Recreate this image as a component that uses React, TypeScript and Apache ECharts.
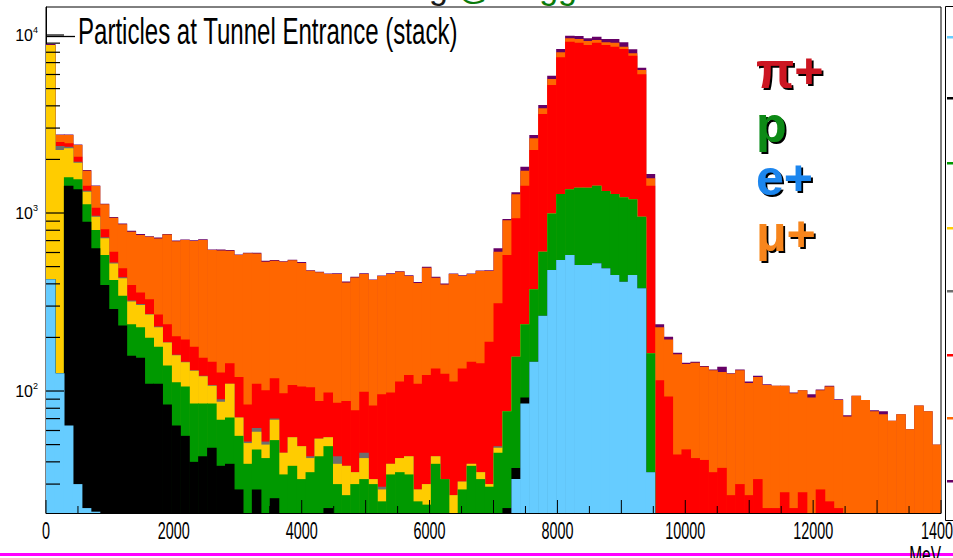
import React, { useEffect, useRef } from "react";
import * as echarts from "echarts";

// ---------------- data ----------------
const BIN_WIDTH_MEV = 140; // 100 bins from 0 to 14000 MeV
const X_MIN = 0;
const X_MAX = 14000;
const X_LABEL_STEP = 2000;
const X_TICK_STEP = 500;
const Y_MIN = 20.64;
const Y_MAX = 14365;

const layerNames = ["light blue", "black", "green", "yellow", "gray", "red", "orange", "purple"];
const layerColors = ["#66ccff", "#000000", "#009900", "#ffcc00", "#6e6e6e", "#ff0000", "#ff6600", "#660066"];

// counts per bin, stack order bottom -> top
const lightBlueCounts = [
  424, 126, 64, 30, 22, 21, 12, 10, 8, 6, 5, 4, 3, 3, 2, 2, 2, 1, 1, 1,
  1, 1, 1, 1, 1, 1, 1, 1, 1, 1, 1, 1, 1, 1, 1, 1, 1, 1, 1, 1,
  1, 1, 1, 1, 1, 1, 1, 1, 1, 1, 1, 10, 32, 85, 146, 265, 479, 545, 581, 511,
  511, 522, 489, 448, 411, 448, 378, 35, 3, 0, 0, 0, 0, 0, 0, 0, 0, 0, 0, 0,
  0, 0, 0, 0, 0, 0, 0, 0, 0, 0, 0, 0, 0, 0, 0, 0, 0, 0, 0, 0,
];
const blackCounts = [
  0, 0, 1360, 1329, 872, 612, 382, 279, 225, 152, 149, 106, 107, 81, 62, 54, 38, 42, 47, 37,
  38, 27, 11, 27, 9, 24, 7, 8, 7, 7, 8, 21, 7, 6, 6, 6, 6, 5, 6, 6,
  6, 5, 5, 6, 6, 4, 5, 5, 5, 5, 5, 12, 5, 7, 0, 0, 0, 0, 0, 0,
  0, 0, 0, 0, 0, 0, 0, 0, 0, 0, 0, 0, 0, 0, 0, 0, 0, 0, 0, 0,
  0, 0, 0, 0, 0, 0, 0, 0, 0, 0, 0, 0, 0, 0, 0, 0, 0, 0, 0, 0,
];
const greenCounts = [
  0, 0, 163, 187, 225, 169, 187, 131, 110, 79, 74, 89, 67, 55, 48, 50, 45, 42, 37, 31,
  32, 28, 27, 19, 32, 28, 26, 29, 24, 27, 34, 27, 22, 19, 23, 25, 23, 18, 27, 28,
  27, 18, 17, 32, 25, 12, 22, 32, 26, 23, 39, 55, 119, 145, 227, 341, 516, 734, 778, 876,
  876, 902, 840, 831, 814, 746, 576, 128, 2, 0, 0, 0, 0, 0, 0, 0, 0, 0, 0, 0,
  0, 0, 0, 0, 0, 0, 0, 0, 0, 0, 0, 0, 0, 0, 0, 0, 0, 0, 0, 0,
];
const yellowCounts = [
  8350, 2133, 722, 371, 198, 151, 140, 101, 87, 81, 76, 70, 51, 48, 47, 39, 45, 36, 22, 18,
  39, 15, 12, 12, 8, 16, 11, 17, 17, 7, 11, 6, 9, 12, 5, 10, 2, 4, 5, 7,
  9, 4, 7, 4, 0, 9, 3, 1, 3, 1, 3, 0, 0, 0, 0, 0, 0, 0, 0, 0,
  0, 0, 0, 0, 0, 0, 0, 0, 0, 0, 0, 0, 0, 0, 0, 0, 0, 0, 0, 0,
  0, 0, 0, 0, 0, 0, 0, 0, 0, 0, 0, 0, 0, 0, 0, 0, 0, 0, 0, 0,
];
const grayCounts = [
  0, 120, 48, 25, 17, 12, 9, 7, 6, 4, 4, 2, 2, 1, 1, 1, 1, 1, 1, 3,
  0, 0, 1, 3, 2, 1, 0, 0, 0, 1, 0, 0, 4, 0, 0, 3, 0, 1, 0, 0,
  0, 0, 0, 0, 0, 0, 0, 0, 0, 0, 1, 0, 0, 0, 0, 0, 0, 0, 0, 0,
  0, 0, 0, 0, 0, 0, 0, 0, 0, 0, 0, 0, 0, 0, 0, 0, 0, 0, 0, 0,
  0, 0, 0, 0, 0, 0, 0, 0, 0, 0, 0, 0, 0, 0, 0, 0, 0, 0, 0, 0,
];
const redCounts = [
  0, 126, 107, 130, 90, 105, 80, 78, 54, 72, 50, 57, 39, 49, 43, 49, 46, 32, 38, 37,
  33, 49, 32, 48, 49, 48, 52, 53, 57, 62, 34, 43, 43, 50, 43, 54, 51, 67, 59, 71,
  80, 82, 93, 91, 93, 87, 103, 107, 108, 159, 262, 503, 778, 1187, 1886, 2993, 4242, 6214, 7812, 7666,
  7400, 7629, 7458, 7318, 7118, 6456, 5061, 1261, 110, 93, 44, 47, 42, 41, 35, 37, 26, 30, 26, 32,
  22, 22, 27, 22, 27, 12, 28, 24, 22, 10, 10, 8, 8, 8, 8, 8, 7, 7, 7, 6,
];
const orangeCounts = [
  0, 238, 279, 338, 304, 347, 309, 335, 375, 391, 394, 407, 450, 521, 492, 510, 519, 552, 474, 488,
  471, 460, 510, 483, 432, 422, 436, 434, 418, 369, 377, 356, 369, 319, 356, 356, 337, 346, 357, 355,
  320, 295, 370, 299, 272, 342, 309, 308, 329, 283, 295, 332, 340, 304, 370, 276, 422, 501, 412, 442,
  467, 320, 313, 456, 254, 242, 346, 142, 113, 102, 117, 95, 102, 96, 96, 91, 99, 101, 85, 88,
  86, 85, 80, 75, 74, 80, 73, 82, 67, 62, 84, 81, 69, 66, 60, 66, 54, 76, 70, 44,
];
const purpleCounts = [
  120, 15, 17, 15, 15, 12, 10, 10, 8, 10, 10, 5, 9, 5, 5, 5, 8, 6, 3, 8,
  5, 5, 5, 6, 7, 4, 3, 4, 6, 3, 3, 3, 4, 5, 4, 4, 3, 3, 4, 3,
  4, 5, 6, 5, 5, 3, 4, 4, 4, 5, 27, 12, 33, 92, 114, 169, 246, 349, 328, 376,
  329, 408, 395, 442, 503, 419, 191, 90, 9, 7, 3, 2, 2, 1, 1, 9, 1, 1, 2, 2,
  1, 0, 0, 1, 0, 4, 1, 1, 1, 1, 0, 0, 1, 3, 0, 0, 0, 0, 0, 0,
];

const yMajorTicks = [100, 1000, 10000];
const yMinorTicks = [
  30, 40, 50, 60, 70, 80, 90,
  200, 300, 400, 500, 600, 700, 800, 900,
  2000, 3000, 4000, 5000, 6000, 7000, 8000, 9000,
];

// legend marker rows (colour order of the stack)
const legendMarkerY = [37, 98, 163, 228, 291, 355, 418, 481];

const speciesLabels = [
  { text: "π+", color: "#cc1620", y: 46 },
  { text: "p", color: "#0c8a14", y: 100 },
  { text: "e+", color: "#1d86ee", y: 153 },
  { text: "μ+", color: "#f7851c", y: 209 },
];

// ---------------- chart ----------------
const SANS = "'Liberation Sans', Arial, Helvetica, sans-serif";

export default function App() {
  const ref = useRef<HTMLDivElement>(null);

  useEffect(() => {
    if (!ref.current) return;
    const chart = echarts.init(ref.current, undefined, { renderer: "svg" });

    const counts = [
      lightBlueCounts, blackCounts, greenCounts, yellowCounts,
      grayCounts, redCounts, orangeCounts, purpleCounts,
    ];
    const cumulative = counts.map((_, k) =>
      counts[0].map((__, i) => {
        let s = 0;
        for (let j = 0; j <= k; j++) s += counts[j][i];
        return s;
      })
    );

    // ROOT-like stack drawing: cumulative histogram of each layer, top layer first
    const histSeries = [7, 6, 5, 4, 3, 2, 1, 0].map((k) => ({
      type: "custom",
      name: layerNames[k],
      clip: true,
      silent: true,
      encode: { x: 0, y: 1 },
      data: cumulative[k]
        .map((v, i) => [i * BIN_WIDTH_MEV, v])
        .filter((d) => d[1] > Y_MIN),
      renderItem: (_p: any, api: any) => {
        const x0 = api.value(0) as number;
        const top = api.value(1) as number;
        const a = api.coord([x0, top]);
        const b = api.coord([x0 + BIN_WIDTH_MEV, Y_MIN]);
        return {
          type: "rect",
          shape: { x: a[0], y: a[1], width: b[0] - a[0] + 0.6, height: b[1] - a[1] },
          style: { fill: layerColors[k] },
        };
      },
    }));

    const yTickData = [
      ...yMajorTicks.map((v) => [X_MIN, v, 18]),
      ...yMinorTicks.map((v) => [X_MIN, v, 14]),
    ];
    const xTickData: number[][] = [];
    for (let v = X_MIN; v <= X_MAX; v += X_TICK_STEP) {
      xTickData.push([v, Y_MIN, v % 1000 === 0 ? 13 : 7]);
    }
    const xLabelData: number[][] = [];
    for (let v = X_MIN; v <= X_MAX; v += X_LABEL_STEP) xLabelData.push([v, Y_MIN]);

    const yTickSeries = {
      type: "custom",
      name: "yTicks",
      silent: true,
      clip: false,
      encode: { x: 0, y: 1 },
      data: yTickData,
      renderItem: (_p: any, api: any) => {
        const p = api.coord([api.value(0), api.value(1)]);
        const len = api.value(2) as number;
        return {
          type: "line",
          shape: { x1: p[0], y1: p[1], x2: p[0] + len, y2: p[1] },
          style: { stroke: "#000", lineWidth: 1.2 },
        };
      },
    };
    const xTickSeries = {
      type: "custom",
      name: "xTicks",
      silent: true,
      clip: false,
      encode: { x: 0, y: 1 },
      data: xTickData,
      renderItem: (_p: any, api: any) => {
        const p = api.coord([api.value(0), api.value(1)]);
        const len = api.value(2) as number;
        return {
          type: "line",
          shape: { x1: p[0], y1: p[1], x2: p[0], y2: p[1] - len },
          style: { stroke: "#000", lineWidth: 1 },
        };
      },
    };
    // condensed ROOT-style x tick labels placed on the axis scale
    const xLabelSeries = {
      type: "custom",
      name: "xLabels",
      silent: true,
      clip: false,
      encode: { x: 0, y: 1 },
      data: xLabelData,
      renderItem: (_p: any, api: any) => {
        const v = api.value(0) as number;
        const p = api.coord([v, api.value(1)]);
        return {
          type: "text",
          x: p[0],
          y: p[1] + 5,
          scaleX: 0.6,
          style: {
            text: String(v),
            align: "center",
            verticalAlign: "top",
            fill: "#000",
            font: `24px ${SANS}`,
          },
        };
      },
    };

    const graphic: any[] = [
      // partially visible slide title above the canvas
      {
        type: "text",
        left: 140,
        top: -30,
        silent: true,
        style: {
          text: "{d|Particles for tracking}{g| @ Trigger}{d| Counter Plane}",
          rich: {
            d: { fill: "#1a1a1a", font: `34px ${SANS}` },
            g: { fill: "#0a7a0a", font: `34px ${SANS}` },
          },
        },
      },
      // histogram title
      {
        type: "text",
        x: 78,
        y: 13,
        scaleX: 0.65,
        silent: true,
        style: {
          text: "Particles at Tunnel Entrance (stack)",
          fill: "#000",
          font: `37px ${SANS}`,
        },
      },
      {
        type: "line",
        silent: true,
        shape: { x1: 47, y1: 36.5, x2: 75, y2: 36.5 },
        style: { stroke: "#000", lineWidth: 1.3 },
      },
      // right-hand legend box (cut by the page edge)
      {
        type: "polyline",
        silent: true,
        shape: { points: [[953, 6.5], [945.5, 6.5], [945.5, 520.5], [953, 520.5]] },
        style: { stroke: "#000", lineWidth: 1, fill: null },
      },
      ...legendMarkerY.map((y, k) => ({
        type: "rect",
        silent: true,
        shape: { x: 947, y: y - 1, width: 6, height: 2.5 },
        style: { fill: layerColors[k] },
      })),
      // bottom magenta rule of the slide
      {
        type: "rect",
        silent: true,
        shape: { x: 0, y: 553, width: 953, height: 3 },
        style: { fill: "#ff00ff" },
      },
      {
        type: "text",
        x: 941,
        y: 542,
        scaleX: 0.62,
        silent: true,
        style: {
          text: "MeV",
          fill: "#000",
          align: "right",
          verticalAlign: "top",
          font: `25px ${SANS}`,
        },
      },
      // species labels with a black drop shadow
      ...speciesLabels.map((s) => ({
        type: "text",
        x: 756,
        y: s.y,
        silent: true,
        style: {
          text: s.text,
          fill: s.color,
          font: `bold 50px ${SANS}`,
          textShadowColor: "#000",
          textShadowBlur: 1,
          textShadowOffsetX: 2,
          textShadowOffsetY: 2,
        },
      })),
    ];

    chart.setOption({
      animation: false,
      backgroundColor: "#ffffff",
      grid: {
        left: 46,
        right: 12,
        top: 7,
        bottom: 45,
        show: true,
        borderColor: "#000",
        borderWidth: 1,
        backgroundColor: "transparent",
        containLabel: false,
        outerBoundsMode: "none",
      },
      xAxis: {
        type: "value",
        min: X_MIN,
        max: X_MAX,
        interval: X_LABEL_STEP,
        axisLine: { show: true, lineStyle: { color: "#000", width: 1 } },
        axisTick: { show: false },
        splitLine: { show: false },
        axisLabel: { show: false },
      },
      yAxis: {
        type: "log",
        logBase: 10,
        min: Y_MIN,
        max: Y_MAX,
        axisLine: { show: true, lineStyle: { color: "#000", width: 1 } },
        axisTick: { show: false },
        splitLine: { show: false },
        axisLabel: {
          showMinLabel: false,
          showMaxLabel: false,
          margin: 8,
          formatter: (v: number) => `{b|10}{s|${Math.round(Math.log10(v))}}`,
          rich: {
            b: { fontFamily: SANS, fontSize: 16, color: "#000", lineHeight: 20 },
            s: { fontFamily: SANS, fontSize: 9, color: "#000", verticalAlign: "top", lineHeight: 20 },
          },
        },
      },
      series: [...histSeries, xTickSeries, yTickSeries, xLabelSeries],
      graphic,
    });

    return () => chart.dispose();
  }, []);

  return (
    <div
      ref={ref}
      style={{ position: "fixed", left: 0, top: 0, width: 953, height: 558, background: "#fff" }}
    />
  );
}
